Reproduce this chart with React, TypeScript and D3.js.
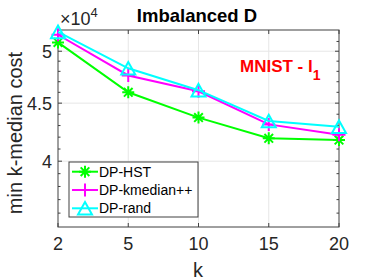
import React from 'react';
import * as d3 from 'd3';

// data (cost values, plotted on a log axis, shown as x10^4)
const kValues = ['2', '5', '10', '15', '20'];
const hstCost = [50900, 46000, 43700, 41900, 41750];
const kmedianCost = [51700, 47600, 46100, 43100, 42200];
const randCost = [52000, 48300, 46200, 43400, 42900];
const yMajorTicks = [40000, 45000, 50000];
const yMinorTicks = [36000, 37000, 38000, 39000, 41000, 42000, 43000, 44000, 46000, 47000, 48000, 49000, 51000];
const legendNames = ['DP-HST', 'DP-kmedian++', 'DP-rand'];

const W = 374;
const H = 280;
const margin = { top: 30, right: 35, bottom: 53, left: 58 };
const axisColor = '#404040';
const gridColor = '#e6e6e6';
const font = '"Liberation Sans", Arial, Helvetica, sans-serif';

function Marker({ type, x, y, color }: { type: string; x: number; y: number; color: string }) {
  if (type === 'star') {
    const r = 6;
    const d = r * 0.72;
    return (
      <path
        d={`M${x - r},${y}H${x + r}M${x},${y - r}V${y + r}M${x - d},${y - d}L${x + d},${y + d}M${x - d},${y + d}L${x + d},${y - d}`}
        stroke={color}
        strokeWidth={2}
        fill="none"
      />
    );
  }
  if (type === 'plus') {
    const r = 6.5;
    return <path d={`M${x - r},${y}H${x + r}M${x},${y - r}V${y + r}`} stroke={color} strokeWidth={2} fill="none" />;
  }
  const w = 7;
  const h = 6.3;
  return (
    <path d={`M${x},${y - h}L${x + w},${y + h}L${x - w},${y + h}Z`} stroke={color} strokeWidth={2} fill="none" />
  );
}

export default function App() {
  const x = d3.scalePoint<string>().domain(kValues).range([margin.left, W - margin.right]);
  const y = d3.scaleLog().domain([35000, 52200]).range([H - margin.bottom, margin.top]);

  const x0 = margin.left;
  const x1 = W - margin.right;
  const y0 = H - margin.bottom;
  const y1 = margin.top;

  const line = d3
    .line<number>()
    .x((_, i) => x(kValues[i]) as number)
    .y((d) => y(d));

  const series = [
    { name: legendNames[0], values: hstCost, color: '#00ff00', marker: 'star' },
    { name: legendNames[1], values: kmedianCost, color: '#ff00ff', marker: 'plus' },
    { name: legendNames[2], values: randCost, color: '#00ffff', marker: 'tri' },
  ];

  const legend = { x: 69, y: 162, w: 129, h: 55, rowH: 18.3 };

  return (
    <svg
      width={W}
      height={H}
      style={{ position: 'absolute', left: 0, top: 0, background: '#fff', fontFamily: font }}
    >
      {/* grid */}
      {kValues.slice(1, -1).map((k) => (
        <line key={'gx' + k} x1={x(k)} x2={x(k)} y1={y0} y2={y1} stroke={gridColor} strokeWidth={1} />
      ))}
      {yMajorTicks.map((t) => (
        <line key={'gy' + t} x1={x0} x2={x1} y1={y(t)} y2={y(t)} stroke={gridColor} strokeWidth={1} />
      ))}

      {/* ticks */}
      {kValues.map((k) => (
        <g key={'tx' + k}>
          <line x1={x(k)} x2={x(k)} y1={y0} y2={y0 - 4} stroke={axisColor} />
          <line x1={x(k)} x2={x(k)} y1={y1} y2={y1 + 4} stroke={axisColor} />
          <text x={x(k)} y={y0 + 23} textAnchor="middle" fontSize={18} fill="#262626">
            {k}
          </text>
        </g>
      ))}
      {yMajorTicks.map((t) => (
        <g key={'ty' + t}>
          <line x1={x0} x2={x0 + 4} y1={y(t)} y2={y(t)} stroke={axisColor} />
          <line x1={x1} x2={x1 - 4} y1={y(t)} y2={y(t)} stroke={axisColor} />
          <text x={x0 - 6} y={y(t) + 6.5} textAnchor="end" fontSize={18} fill="#262626">
            {d3.format('~g')(t / 10000)}
          </text>
        </g>
      ))}
      {yMinorTicks.map((t) => (
        <g key={'tm' + t}>
          <line x1={x0} x2={x0 + 2.5} y1={y(t)} y2={y(t)} stroke={axisColor} />
          <line x1={x1} x2={x1 - 2.5} y1={y(t)} y2={y(t)} stroke={axisColor} />
        </g>
      ))}

      {/* axes box */}
      <rect x={x0} y={y1} width={x1 - x0} height={y0 - y1} fill="none" stroke={axisColor} strokeWidth={1} />

      {/* series */}
      {series.map((s) => (
        <g key={s.name}>
          <path d={line(s.values) || ''} fill="none" stroke={s.color} strokeWidth={2} />
          {s.values.map((v, i) => (
            <Marker key={i} type={s.marker} x={x(kValues[i]) as number} y={y(v)} color={s.color} />
          ))}
        </g>
      ))}

      {/* exponent */}
      <text x={60} y={25} fontSize={18} fill="#262626">
        ×10
        <tspan fontSize={13} dy={-8}>
          4
        </tspan>
      </text>

      {/* title */}
      <text x={197} y={22} textAnchor="middle" fontSize={18.5} fontWeight="bold" fill="#000">
        Imbalanced D
      </text>

      {/* annotation */}
      <text x={240} y={72} fontSize={17} fontWeight="bold" fill="#ff0000">
        MNIST - l
        <tspan fontSize={14} dy={8}>
          1
        </tspan>
      </text>

      {/* axis labels */}
      <text x={198} y={277} textAnchor="middle" fontSize={20} fill="#262626">
        k
      </text>
      <text
        transform={`translate(22,${133}) rotate(-90)`}
        textAnchor="middle"
        fontSize={20}
        fill="#262626"
      >
        min k-median cost
      </text>

      {/* legend */}
      <rect x={legend.x} y={legend.y} width={legend.w} height={legend.h} fill="#fff" stroke={axisColor} strokeWidth={1} />
      {series.map((s, i) => {
        const cy = legend.y + 9.7 + i * legend.rowH;
        return (
          <g key={'lg' + s.name}>
            <line x1={legend.x + 3} x2={legend.x + 29} y1={cy} y2={cy} stroke={s.color} strokeWidth={2} />
            <Marker type={s.marker} x={legend.x + 16} y={cy} color={s.color} />
            <text x={legend.x + 30} y={cy + 5} fontSize={14} fill="#000">
              {s.name}
            </text>
          </g>
        );
      })}
    </svg>
  );
}
